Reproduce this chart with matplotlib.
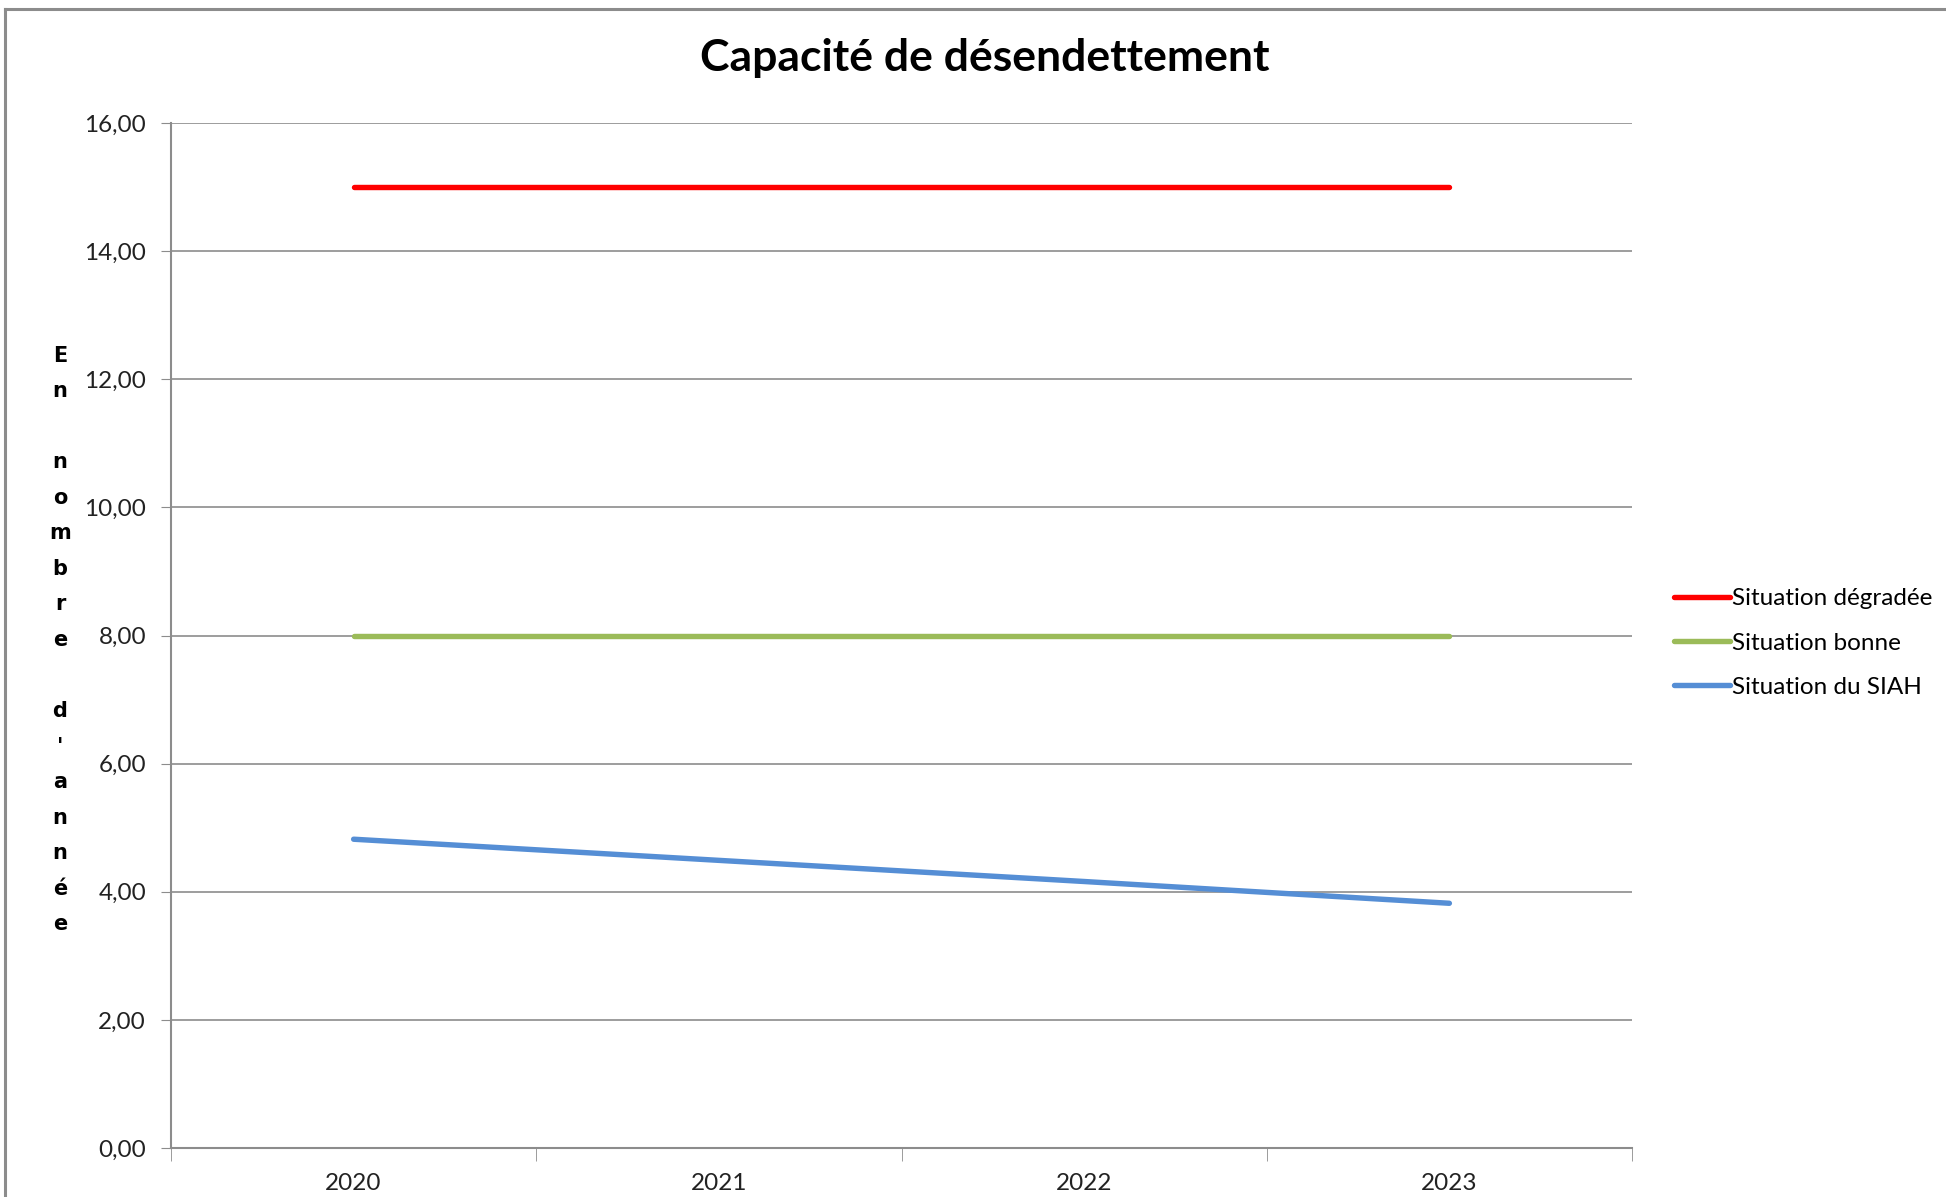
import matplotlib
matplotlib.use("Agg")
import matplotlib.pyplot as plt
from matplotlib.lines import Line2D
import numpy as np

# Données
annees = ["2020", "2021", "2022", "2023"]
degradee = [15.0, 15.0, 15.0, 15.0]
bonne = [8.0, 8.0, 8.0, 8.0]
siah = [4.82, 4.49, 4.16, 3.82]
yticks = [0, 2, 4, 6, 8, 10, 12, 14, 16]

W, H = 1946, 1197
fig = plt.figure(figsize=(W / 100, H / 100), dpi=100)
plt.rcParams["font.family"] = ["Lato", "DejaVu Sans"]

gris = "#8c8c8c"

# cadre du graphique (coin haut-gauche)
fig.add_artist(Line2D([5 / W, 5 / W], [0, 1 - 9 / H], color=gris, lw=2.2, transform=fig.transFigure))
fig.add_artist(Line2D([5 / W, 1], [1 - 9 / H, 1 - 9 / H], color=gris, lw=2.2, transform=fig.transFigure))

ax = fig.add_axes([171 / W, 1 - 1148 / H, (1632 - 171) / W, (1148 - 123) / H])
x = np.arange(len(annees))

ax.plot(x, degradee, color="#ff0000", lw=3.9, solid_capstyle="round", label="Situation dégradée")
ax.plot(x, bonne, color="#9bbb59", lw=3.9, solid_capstyle="round", label="Situation bonne")
ax.plot(x, siah, color="#558ed5", lw=3.9, solid_capstyle="round", label="Situation du SIAH")

ax.set_xlim(-0.5, len(annees) - 0.5)
ax.set_ylim(0, 16)
ax.set_yticks(yticks)
ax.set_yticklabels([f"{v:.2f}".replace(".", ",") for v in yticks], fontsize=17.5, color="#222222")
ax.set_xticks(x)
ax.set_xticklabels(annees, fontsize=17.5, color="#222222")
ax.set_xticks(np.arange(-0.5, len(annees)), minor=True)
ax.tick_params(axis="x", which="major", length=0, pad=18)
ax.tick_params(axis="x", which="minor", length=9, color=gris, direction="out")
ax.tick_params(axis="y", length=7, color=gris, pad=11)
ax.grid(axis="y", color=gris, lw=1.2)
ax.set_axisbelow(True)
for s in ["top", "right"]:
    ax.spines[s].set_visible(False)
for s in ["left", "bottom"]:
    ax.spines[s].set_color(gris)
    ax.spines[s].set_linewidth(1.5)

fig.text(0.506, 1 - 58 / H, "Capacité de désendettement", ha="center", va="center",
         fontsize=32, fontweight="bold", color="black")

label = "En nombre d'année"
fig.text(60 / W, 1 - 640 / H, "\n".join(c if c != " " else " " for c in label),
         ha="center", va="center", multialignment="center",
         fontsize=15, fontweight="bold", family="DejaVu Sans", linespacing=1.97)

fig.legend(loc="center left", bbox_to_anchor=(1674 / W, 1 - 643 / H), frameon=False,
           fontsize=17.5, handlelength=2.3, handletextpad=0.1, labelspacing=0.95,
           borderaxespad=0, borderpad=0)

fig.savefig("out.png", dpi=100)
